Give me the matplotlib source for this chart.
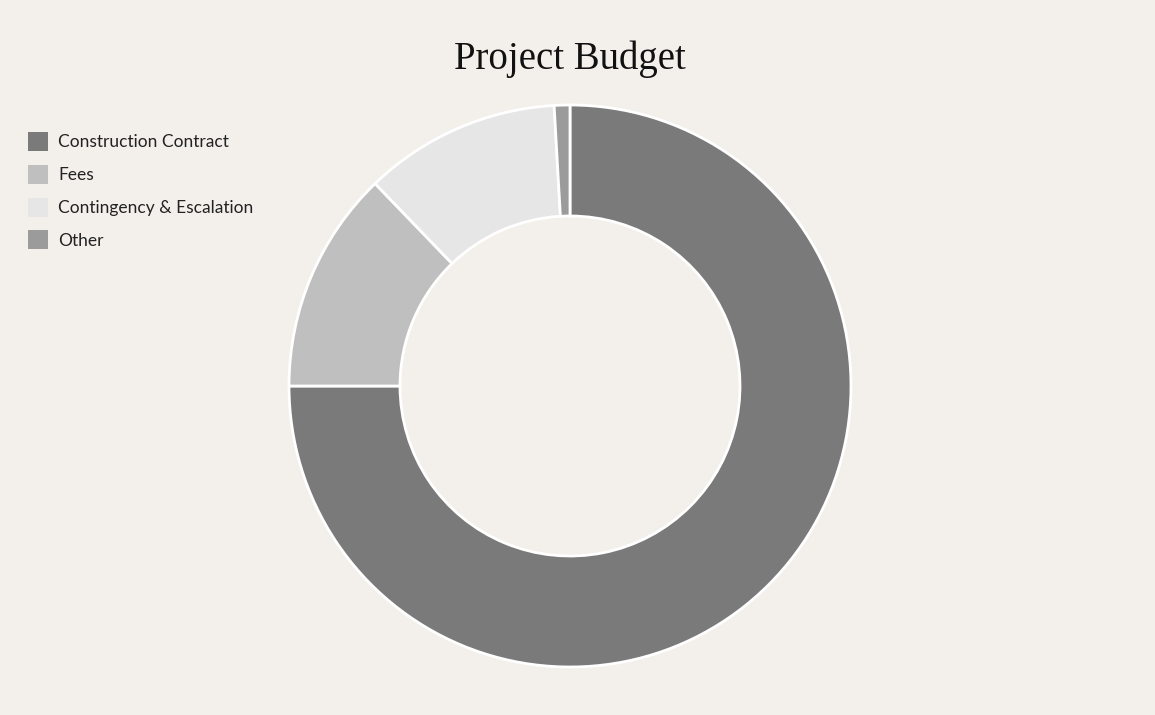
import matplotlib
matplotlib.use("Agg")
from matplotlib import pyplot as plt
from matplotlib.patches import Patch

categories = ["Construction Contract", "Fees", "Contingency & Escalation", "Other"]
shares = [75.0, 12.8, 11.3, 0.9]
colors = ["#7a7a7a", "#bfbfbf", "#e6e6e6", "#9b9b9b"]

bg = "#f3f0eb"
W, H = 1155, 715

fig = plt.figure(figsize=(W / 100, H / 100), dpi=100, facecolor=bg)

# donut: center (570, 386) px, outer radius 280 px
cx, cy, r = 570, 386, 281
ax = fig.add_axes([(cx - r) / W, (H - cy - r) / H, 2 * r / W, 2 * r / H])
ax.set_facecolor(bg)
ax.pie(shares, colors=colors, startangle=90, counterclock=False, radius=1,
       wedgeprops=dict(width=0.395, edgecolor="white", linewidth=2))
ax.set_xlim(-1.0, 1.0)
ax.set_ylim(-1.0, 1.0)
ax.set_aspect("equal")
ax.axis("off")

fig.text(cx / W, 1 - 59 / H, "Project Budget", ha="center", va="center",
         fontsize=28, family="Liberation Serif", color="#111111")

handles = [Patch(facecolor=c, edgecolor="none") for c in colors]
fig.legend(handles, categories, loc="upper left", bbox_to_anchor=(28 / W, 1 - 132 / H),
           frameon=False, borderpad=0, borderaxespad=0,
           handlelength=1.15, handleheight=1.3, labelspacing=0.8, handletextpad=0.6,
           prop={"family": "Lato", "size": 12.5}, labelcolor="#222222")

fig.savefig("out.png", dpi=100, facecolor=bg)
